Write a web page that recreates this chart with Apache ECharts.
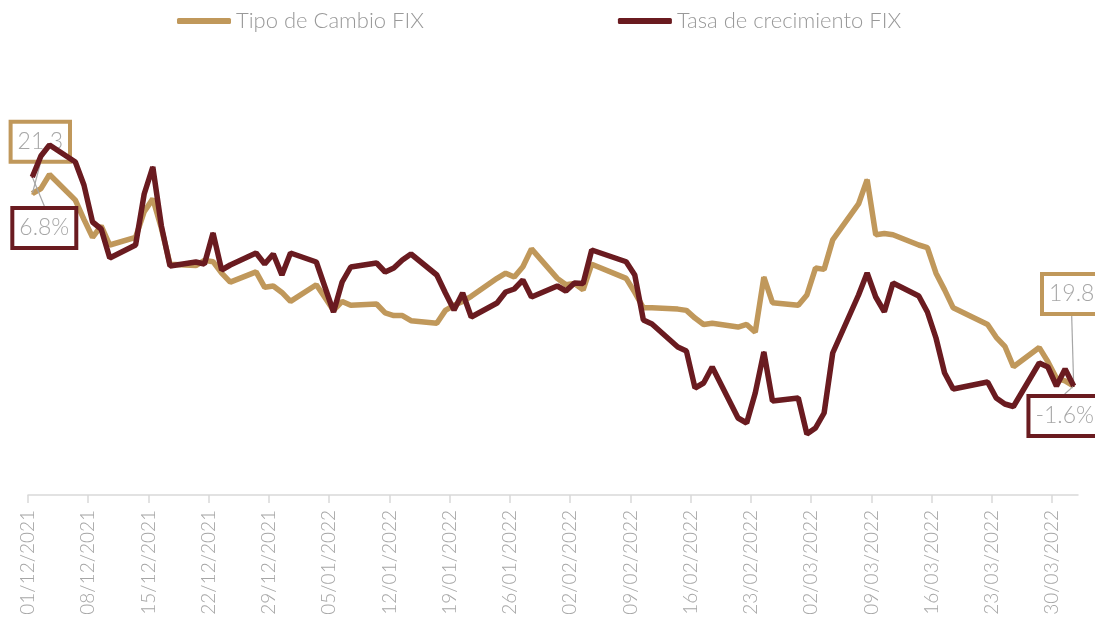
<!DOCTYPE html>
<html>
<head>
<meta charset="utf-8">
<script src="https://cdn.jsdelivr.net/npm/echarts@6/dist/echarts.min.js"></script>
<style>
  html, body { margin: 0; padding: 0; background: #fff; }
  #container_fix { width: 1095px; height: 624px; }
</style>
</head>
<body>
<div id="container_fix"></div>
<script>
// dias habiles (FIX) del 01/12/2021 al 01/04/2022
var fechas = [
    '2021-12-01', '2021-12-02', '2021-12-03', '2021-12-06', '2021-12-07', '2021-12-08', '2021-12-09', '2021-12-10',
    '2021-12-13', '2021-12-14', '2021-12-15', '2021-12-16', '2021-12-17', '2021-12-20', '2021-12-21', '2021-12-22',
    '2021-12-23', '2021-12-24', '2021-12-27', '2021-12-28', '2021-12-29', '2021-12-30', '2021-12-31',
    '2022-01-03', '2022-01-04', '2022-01-05', '2022-01-06', '2022-01-07', '2022-01-10', '2022-01-11', '2022-01-12',
    '2022-01-13', '2022-01-14', '2022-01-17', '2022-01-18', '2022-01-19', '2022-01-20', '2022-01-21', '2022-01-24',
    '2022-01-25', '2022-01-26', '2022-01-27', '2022-01-28', '2022-01-31',
    '2022-02-01', '2022-02-02', '2022-02-03', '2022-02-04', '2022-02-08', '2022-02-09', '2022-02-10', '2022-02-11',
    '2022-02-14', '2022-02-15', '2022-02-16', '2022-02-17', '2022-02-18', '2022-02-21', '2022-02-22', '2022-02-23',
    '2022-02-24', '2022-02-25', '2022-02-28',
    '2022-03-01', '2022-03-02', '2022-03-03', '2022-03-04', '2022-03-07', '2022-03-08', '2022-03-09', '2022-03-10',
    '2022-03-11', '2022-03-14', '2022-03-15', '2022-03-16', '2022-03-17', '2022-03-18', '2022-03-22', '2022-03-23',
    '2022-03-24', '2022-03-25', '2022-03-28', '2022-03-29', '2022-03-30', '2022-03-31',
    '2022-04-01'
];

var tipoCambio = [
    21.30, 21.34, 21.45, 21.25, 21.10, 20.96, 21.05, 20.90,
    20.96, 21.16, 21.26, 21.03, 20.75, 20.74, 20.78, 20.77,
    20.68, 20.61, 20.69, 20.57, 20.58, 20.53, 20.46,
    20.59, 20.49, 20.39, 20.46, 20.43, 20.44, 20.37, 20.35,
    20.35, 20.31, 20.29, 20.39, 20.43, 20.46, 20.50, 20.64,
    20.68, 20.65, 20.73, 20.87, 20.64,
    20.59, 20.60, 20.55, 20.75, 20.64, 20.53, 20.41, 20.41,
    20.40, 20.39, 20.33, 20.28, 20.29, 20.26, 20.28, 20.22,
    20.65, 20.45, 20.43,
    20.51, 20.72, 20.71, 20.94, 21.22, 21.41, 20.98, 20.99,
    20.98, 20.90, 20.88, 20.68, 20.55, 20.41, 20.28, 20.18,
    20.11, 19.95, 20.10, 19.99, 19.86, 19.84,
    19.80
];

var tasaCrecimiento = [
    6.80, 7.64, 8.08, 7.40, 6.48, 5.00, 4.72, 3.56,
    4.08, 6.12, 7.20, 4.84, 3.24, 3.40, 3.32, 4.56,
    3.08, 3.28, 3.76, 3.32, 3.72, 2.88, 3.76,
    3.40, 2.40, 1.40, 2.60, 3.20, 3.36, 3.00, 3.16,
    3.48, 3.72, 2.88, 2.16, 1.48, 2.16, 1.20, 1.76,
    2.20, 2.32, 2.68, 2.00, 2.44,
    2.24, 2.56, 2.54, 3.88, 3.41, 2.88, 1.08, 0.92,
    0.00, -0.16, -1.64, -1.44, -0.80, -2.84, -3.04, -1.84,
    -0.20, -2.16, -2.04,
    -3.48, -3.24, -2.64, -0.24, 2.08, 2.96, 2.00, 1.41,
    2.56, 2.04, 1.40, 0.36, -1.04, -1.68, -1.40, -2.04,
    -2.28, -2.38, -0.64, -0.80, -1.56, -0.88,
    -1.56
];

var etiquetasEje = [
    '01/12/2021', '08/12/2021', '15/12/2021', '22/12/2021', '29/12/2021',
    '05/01/2022', '12/01/2022', '19/01/2022', '26/01/2022',
    '02/02/2022', '09/02/2022', '16/02/2022', '23/02/2022',
    '02/03/2022', '09/03/2022', '16/03/2022', '23/03/2022', '30/03/2022'
];

var fuente = 'Lato, "Open Sans", sans-serif';
var colorOro = '#C0985B';
var colorVino = '#6A1B20';
var grisTexto = '#a6a6a6';

var DIA = 86400000;
var inicio = Date.UTC(2021, 11, 1);

function diaIndice(y, m, d) {
    return (Date.UTC(y, m - 1, d) - inicio) / DIA;
}

// cada dia ocupa una ranura; el punto va al centro de la ranura
var posX = fechas.map(f => {
    let p = f.split('-');
    return diaIndice(+p[0], +p[1], +p[2]) + 0.5;
});
var finEje = Math.ceil(posX[posX.length - 1]);

var posTicks = etiquetasEje.map(e => {
    let p = e.split('/');
    return diaIndice(+p[2], +p[1], +p[0]);
});

function etiqueta(borde, fmt) {
    return {
        show: true,
        position: 'inside',
        formatter: fmt,
        fontFamily: fuente,
        fontWeight: 300,
        fontSize: 23,
        lineHeight: 26,
        color: grisTexto,
        backgroundColor: '#fff',
        borderColor: borde,
        borderWidth: 4,
        padding: [5, 5]
    };
}

function armarSerie(valores, borde, fmt) {
    return valores.map((v, i) => {
        let item = { value: [posX[i], v] };
        if (i === 0 || i === valores.length - 1) {
            item.label = etiqueta(borde, fmt);
            item.labelLine = { show: true, lineStyle: { color: grisTexto, width: 1.2 } };
        }
        return item;
    });
}

// desplazamiento de las cajas de inicio y fin respecto al punto
function moverEtiqueta(ini, fin, total) {
    return params => {
        if (params.dataIndex === 0) return { dx: ini[0], dy: ini[1] };
        if (params.dataIndex === total - 1) return { dx: fin[0], dy: fin[1] };
    };
}

var fixChart = echarts.init(document.getElementById('container_fix'));

let option = {
    animation: false,
    legend: {
        top: 5,
        left: 172,
        itemWidth: 54,
        itemHeight: 6,
        itemGap: 194,
        icon: 'roundRect',
        textStyle: { fontFamily: fuente, fontWeight: 300, fontSize: 22, color: '#999' },
        data: ['Tipo de Cambio FIX', 'Tasa de crecimiento FIX']
    },
    grid: {
        left: 28,
        right: 17,
        top: 45,
        bottom: 129,
        containLabel: false,
        outerBoundsMode: 'none'
    },
    xAxis: {
        type: 'value',
        min: 0,
        max: finEje,
        splitLine: { show: false },
        axisLine: { show: true, onZero: false, lineStyle: { color: '#d9d9d9', width: 1.5 } },
        axisTick: { show: true, length: 8, customValues: posTicks, lineStyle: { color: '#d9d9d9', width: 1.5 } },
        axisLabel: {
            customValues: posTicks,
            rotate: 90,
            margin: 15,
            fontFamily: fuente,
            fontWeight: 300,
            fontSize: 19,
            color: grisTexto,
            formatter: v => etiquetasEje[posTicks.indexOf(v)] || ''
        }
    },
    yAxis: [
        { type: 'value', min: 18.95, max: 22.46, show: false },
        { type: 'value', min: -5.92, max: 12.08, show: false }
    ],
    series: [
        {
            name: 'Tipo de Cambio FIX',
            type: 'line',
            yAxisIndex: 0,
            z: 2,
            symbol: 'circle',
            symbolSize: 2,
            color: colorOro,
            lineStyle: { width: 5.5, color: colorOro },
            labelLayout: moverEtiqueta([8, -52], [-2, -92], tipoCambio.length),
            data: armarSerie(tipoCambio, colorOro, p => p.value[1].toFixed(1))
        },
        {
            name: 'Tasa de crecimiento FIX',
            type: 'line',
            yAxisIndex: 1,
            z: 3,
            symbol: 'circle',
            symbolSize: 2,
            color: colorVino,
            lineStyle: { width: 5.5, color: colorVino },
            labelLayout: moverEtiqueta([12, 51], [-9, 30], tasaCrecimiento.length),
            data: armarSerie(tasaCrecimiento, colorVino, p => p.value[1].toFixed(1) + '%')
        }
    ]
};

fixChart.setOption(option);
</script>
</body>
</html>
